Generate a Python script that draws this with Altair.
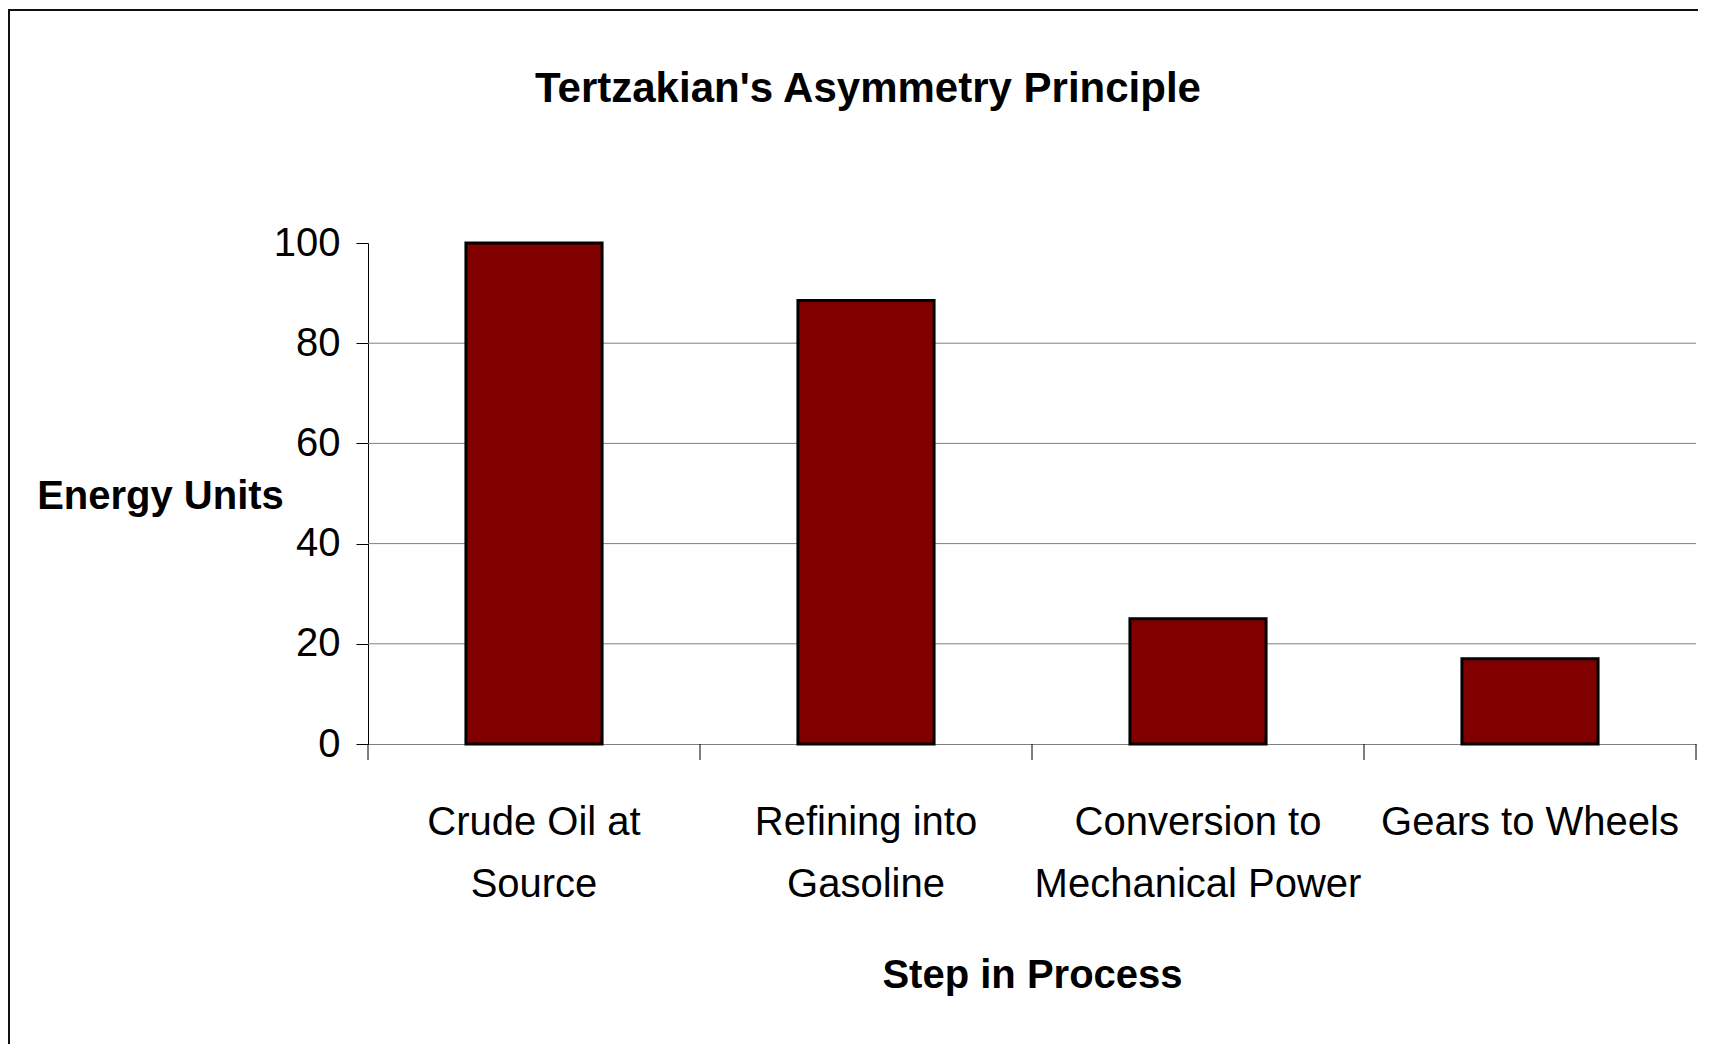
import altair as alt
import pandas as pd

# ---- data ----
steps = ["Crude Oil at|Source", "Refining into|Gasoline",
         "Conversion to|Mechanical Power", "Gears to Wheels"]
energy = [100, 88.5, 25, 17]
grid_values = [20, 40, 60, 80]
y_ticks = [0, 20, 40, 60, 80, 100]
boundaries = [0, 1, 2, 3, 4]

FONT = "'Liberation Sans Narrow', 'Arial Narrow', 'Liberation Sans', Arial, sans-serif"
W, H = 1328, 501

df = pd.DataFrame({"step": steps, "energy": energy})
grid_df = pd.DataFrame({"v": grid_values})
bound_df = pd.DataFrame({"b": boundaries})
frame_df = pd.DataFrame({"k": [0]})

yscale = alt.Scale(domain=[0, 100], nice=False)

y_axis = alt.Axis(
    title="Energy Units", values=y_ticks, format="d",
    labelFont=FONT, labelFontSize=40, labelColor="#000000", labelPadding=16,
    ticks=True, tickSize=12, tickColor="#000000", tickWidth=1,
    domain=True, domainColor="#000000", domainWidth=1, grid=False,
    titleFont=FONT, titleFontSize=40, titleFontWeight="bold", titleColor="#000000",
    titleAngle=0, titleX=-208, titleY=265, titleAlign="center",
    titleBaseline="alphabetic",
)

grid = alt.Chart(grid_df).mark_rule(color="#808080", strokeWidth=1).encode(
    y=alt.Y("v:Q", scale=yscale, axis=y_axis, title="Energy Units")
)

bars = alt.Chart(df).mark_bar(
    color="#800000", stroke="#000000", strokeWidth=3, strokeJoin="miter"
).encode(
    x=alt.X(
        "step:N", sort=None,
        scale=alt.Scale(paddingInner=0.59, paddingOuter=0.295),
        axis=alt.Axis(
            title="Step in Process",
            labelExpr="split(datum.label, '|')",
            labelAngle=0, labelFont=FONT, labelFontSize=40, labelColor="#000000",
            labelBaseline="alphabetic", labelLineHeight=62, labelPadding=90,
            ticks=False, tickSize=0, domain=True, domainColor="#808080", domainWidth=1,
            grid=False, labelLimit=0,
            titleFont=FONT, titleFontSize=40, titleFontWeight="bold", titleColor="#000000",
            titleX=W / 2, titleY=243, titleAlign="center", titleBaseline="alphabetic",
        ),
    ),
    y=alt.Y("energy:Q", scale=yscale, axis=y_axis, title="Energy Units"),
)

xticks = alt.Chart(bound_df).mark_rule(color="#000000", strokeWidth=1).encode(
    x=alt.X("b:Q", scale=alt.Scale(domain=[0, 4], nice=False, zero=False), axis=None),
    y=alt.value(H),
    y2=alt.value(H + 16),
)

frame = alt.Chart(frame_df).mark_rect(
    fillOpacity=0, stroke="#111111", strokeWidth=2
).encode(
    x=alt.value(-359), x2=alt.value(1360),
    y=alt.value(-233), y2=alt.value(830),
)

chart = alt.layer(grid, bars, xticks, frame).resolve_scale(x="independent").properties(
    width=W, height=H,
    background="white",
    autosize=alt.AutoSizeParams(type="none"),
    padding={"left": 360, "top": 235, "right": 2, "bottom": 300},
    title=alt.TitleParams(
        text="Tertzakian's Asymmetry Principle",
        font=FONT, fontSize=42, fontWeight="bold", color="#000000",
        anchor="middle", frame="group", dx=-164, offset=-135,
        baseline="alphabetic",
    ),
).configure_view(strokeWidth=0, stroke="transparent")

chart.save("out.html", embed_options={"renderer": "svg", "actions": False})
